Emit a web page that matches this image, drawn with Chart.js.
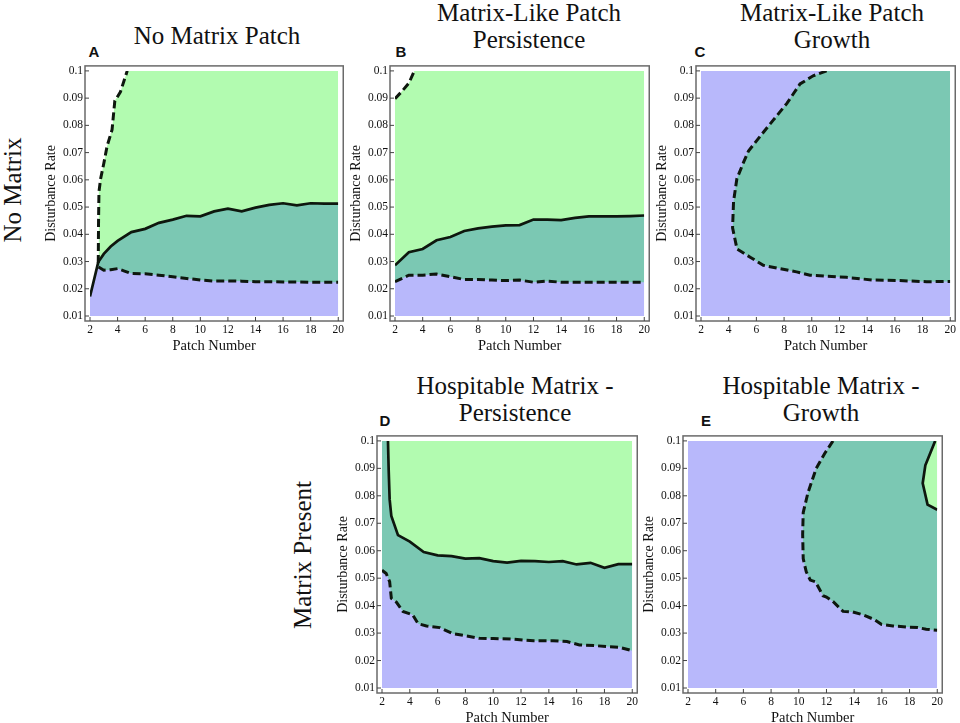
<!DOCTYPE html>
<html>
<head>
<meta charset="utf-8">
<script src="https://cdn.jsdelivr.net/npm/chart.js@4.4.1/dist/chart.umd.min.js"></script>
<style>
  body { margin: 0; background: #fff; }
  #page { position: relative; width: 960px; height: 723px; overflow: hidden;
          font-family: "Liberation Serif", "Times New Roman", serif; color: #111; }
  canvas { position: absolute; }
  .title { position: absolute; width: 360px; text-align: center; font-size: 25px;
           line-height: 26.7px; white-space: nowrap; }
  .letter { position: absolute; width: 20px; text-align: center; font-family: "Liberation Sans", Arial, sans-serif;
            font-weight: bold; font-size: 15px; line-height: 16px; }
  .row { position: absolute; width: 300px; height: 30px; line-height: 30px; font-size: 25px;
         text-align: center; transform: rotate(-90deg); white-space: nowrap; }
</style>
</head>
<body>
<div id="page">
  <div class="row" style="left:-137px; top:175px;">No Matrix</div>
  <div class="row" style="left:153px; top:540px;">Matrix Present</div>

  <div class="title" style="left:37px; top:23px;">No Matrix Patch</div>
  <div class="title" style="left:349px; top:0px;">Matrix-Like Patch<br>Persistence</div>
  <div class="title" style="left:652px; top:0px;">Matrix-Like Patch<br>Growth</div>
  <div class="title" style="left:335px; top:373px;">Hospitable Matrix -<br>Persistence</div>
  <div class="title" style="left:641px; top:373px;">Hospitable Matrix -<br>Growth</div>

  <div class="letter" style="left:84px; top:44px;">A</div>
  <div class="letter" style="left:391px; top:44px;">B</div>
  <div class="letter" style="left:690px; top:44px;">C</div>
  <div class="letter" style="left:375px; top:413px;">D</div>
  <div class="letter" style="left:696px; top:413px;">E</div>

  <canvas id="panelA"></canvas>
  <canvas id="panelB"></canvas>
  <canvas id="panelC"></canvas>
  <canvas id="panelD"></canvas>
  <canvas id="panelE"></canvas>
</div>
<script>
// axis range
const xMin = 2, xMax = 20, yMin = 0.01, yMax = 0.1;
const green = '#b2fbb0', teal = '#7bc8b3', lavender = '#b8b8fb';

// A: No Matrix Patch  [patch number, disturbance rate]
const aSolid = [[2, 0.0172], [2.6, 0.0298], [3, 0.0328], [3.5, 0.0355], [4, 0.0376], [5, 0.0408], [6, 0.042],
  [7, 0.0442], [8, 0.0454], [9, 0.0468], [10, 0.0466], [11, 0.0484], [12, 0.0494], [13, 0.0484], [14, 0.0498],
  [15, 0.0508], [16, 0.0514], [17, 0.0506], [18, 0.0514], [19, 0.0513], [20, 0.0513]];
const aLowerDash = [[2.62, 0.028], [3, 0.0268], [3.5, 0.027], [4, 0.0274], [4.5, 0.0265], [5, 0.0256], [6, 0.0255],
  [7, 0.025], [8, 0.0244], [9, 0.0238], [10, 0.0232], [11, 0.0228], [12, 0.0229], [13, 0.0228], [14, 0.0226],
  [15, 0.0226], [16, 0.0225], [17, 0.0225], [18, 0.0224], [19, 0.0224], [20, 0.0224]];
const aSteepDash = [[2.6, 0.0295], [2.62, 0.045], [2.65, 0.0556], [2.77, 0.0604], [3.0, 0.066], [3.24, 0.0724],
  [3.6, 0.0784], [3.8, 0.089], [4.2, 0.0922], [4.7, 0.1]];

// B: Matrix-Like Patch Persistence
const bSolid = [[2, 0.0286], [3, 0.0334], [4, 0.0346], [5, 0.0378], [6, 0.039], [7, 0.0412], [8, 0.0422],
  [9, 0.0428], [10, 0.0433], [11, 0.0434], [12, 0.0454], [13, 0.0454], [14, 0.0452], [15, 0.046], [16, 0.0466],
  [17, 0.0466], [18, 0.0466], [19, 0.0467], [20, 0.0469]];
const bLowerDash = [[2, 0.0226], [3, 0.025], [4, 0.025], [5, 0.0254], [6, 0.0244], [7, 0.0234], [8, 0.0234],
  [9, 0.0232], [10, 0.023], [11, 0.0232], [12, 0.0224], [13, 0.0228], [14, 0.0224], [15, 0.0224], [16, 0.0224],
  [17, 0.0224], [18, 0.0224], [19, 0.0224], [20, 0.0224]];
const bSteepDash = [[2, 0.0898], [2.5, 0.0925], [3, 0.0955], [3.4, 0.1]];

// C: Matrix-Like Patch Growth (dashed boundary split at its leftmost point)
const cUpperDash = [[4.28, 0.0424], [4.35, 0.052], [4.59, 0.0604], [5.07, 0.0664], [5.43, 0.0706], [6.27, 0.076],
  [7.23, 0.082], [8.19, 0.088], [9.15, 0.0952], [10.1, 0.0982], [11.07, 0.1]];
const cLowerDash = [[4.28, 0.0424], [4.6, 0.0346], [5.55, 0.0316], [6.5, 0.0286], [7.7, 0.0274], [8.9, 0.0262],
  [9.87, 0.025], [11.07, 0.0246], [12.5, 0.0242], [14.4, 0.0232], [16.3, 0.023], [18.3, 0.0226], [20, 0.0227]];

// D: Hospitable Matrix - Persistence
const dSolid = [[2.43, 0.1], [2.48, 0.0895], [2.55, 0.0787], [2.67, 0.0727], [3.15, 0.0657], [4, 0.0633],
  [5, 0.0595], [6, 0.0583], [7, 0.058], [8, 0.0571], [9, 0.0573], [10, 0.0562], [11, 0.0557], [12, 0.0563],
  [13, 0.0562], [14, 0.0559], [15, 0.0562], [16, 0.055], [17, 0.0556], [18, 0.0538], [19, 0.0551], [20, 0.0551]];
const dLowerDash = [[2, 0.0529], [2.3, 0.0517], [2.55, 0.0487], [2.67, 0.0427], [3.03, 0.0413], [3.5, 0.0379],
  [4.2, 0.0367], [4.6, 0.0334], [5.2, 0.0326], [6.15, 0.032], [7.1, 0.0298], [8.07, 0.029], [9, 0.0281],
  [10, 0.028], [11.4, 0.0278], [12.9, 0.0272], [14.3, 0.0272], [15.3, 0.0269], [16.2, 0.0257], [17.4, 0.0254],
  [18.4, 0.025], [19.1, 0.0248], [20, 0.0236]];

// E: Hospitable Matrix - Growth
const eUpperDash = [[10.28, 0.066], [10.32, 0.0739], [10.66, 0.0811], [11.26, 0.09], [11.87, 0.0954], [12.47, 0.1]];
const eLowerDash = [[10.28, 0.066], [10.32, 0.0571], [10.54, 0.0523], [10.83, 0.0493], [11.2, 0.0487],
  [11.75, 0.0436], [12, 0.0431], [12.47, 0.0415], [13.2, 0.0379], [13.9, 0.0377], [14.6, 0.0367], [15.47, 0.0349],
  [15.96, 0.0332], [16.8, 0.0326], [17.76, 0.0322], [18.6, 0.032], [19.2, 0.0314], [20, 0.031]];
const eUpperSolid = [[18.95, 0.0846], [19.14, 0.0911], [19.85, 0.1]];
const eLowerSolid = [[18.95, 0.0846], [19.3, 0.0768], [20, 0.0749]];

const topEdge = [[xMin, yMax], [xMax, yMax]];
const topRight = [[xMax, yMax]];

function pts(arr) { return arr.map(([x, y]) => ({ x, y })); }

// filled region under a boundary (painted in layers, higher order first)
function area(arr, color, order, fill) {
  return { data: pts(arr), fill: fill === undefined ? 'start' : fill, backgroundColor: color,
    borderWidth: 0, pointRadius: 0, order };
}
function edge(arr, dashed) {
  return { data: pts(arr), fill: false, borderColor: '#0e170e', borderWidth: dashed ? 3 : 2.7,
    borderDash: dashed ? [8, 4] : [], pointRadius: 0, order: 0 };
}
function loop(upper, lower) { return upper.slice().reverse().concat(lower.slice(1)); }
// carry a lower layer back to the left axis so no seam shows where it starts
function fromLeft(arr) { return [[xMin, arr[0][1]]].concat(arr); }

// grey frame a little outside the plot range, with inward ticks
const framePlugin = {
  id: 'frame',
  afterDraw(chart) {
    const { ctx, chartArea: a, scales: { x, y } } = chart;
    const g = 5;
    ctx.save();
    ctx.strokeStyle = '#6a6a6a';
    ctx.lineWidth = 1.5;
    ctx.strokeRect(a.left - g, a.top - g, a.right - a.left + 2 * g, a.bottom - a.top + 2 * g);
    ctx.lineWidth = 1;
    ctx.strokeStyle = '#444';
    ctx.beginPath();
    x.ticks.forEach(t => {
      const px = x.getPixelForValue(t.value);
      ctx.moveTo(px, a.bottom + g);
      ctx.lineTo(px, a.bottom + g - 4);
    });
    y.ticks.forEach(t => {
      const py = y.getPixelForValue(t.value);
      ctx.moveTo(a.left - g, py);
      ctx.lineTo(a.left - g + 4, py);
    });
    ctx.stroke();
    ctx.restore();
  }
};

function makePanel(id, rect, datasets) {
  const [pl, pt, pr, pb] = rect;
  const cv = document.getElementById(id);
  cv.width = pr - pl + 47 + 12;
  cv.height = pb - pt + 10 + 39;
  cv.style.left = (pl - 47) + 'px';
  cv.style.top = (pt - 10) + 'px';
  const tickFont = { family: 'Liberation Serif', size: 11.5 };
  return new Chart(cv, {
    type: 'line',
    data: { datasets },
    options: {
      responsive: false,
      animation: false,
      devicePixelRatio: 1,
      events: [],
      layout: { padding: { left: 0, top: 10, right: 12, bottom: 0 } },
      plugins: { legend: { display: false }, tooltip: { enabled: false } },
      scales: {
        x: {
          type: 'linear', min: xMin, max: xMax,
          afterFit: s => { s.height = 39; },
          grid: { display: false, drawTicks: false },
          border: { display: false },
          ticks: { stepSize: 2, padding: 7, color: '#111', font: tickFont, maxRotation: 0, autoSkip: false },
          title: { display: true, text: 'Patch Number', color: '#111', padding: 0,
            font: { family: 'Liberation Serif', size: 14.5 } }
        },
        y: {
          type: 'linear', min: yMin, max: yMax,
          afterFit: s => { s.width = 47; },
          grid: { display: false, drawTicks: false },
          border: { display: false },
          ticks: { stepSize: 0.01, padding: 7, color: '#111', font: tickFont, autoSkip: false,
            callback: v => String(+v.toFixed(2)) },
          title: { display: true, text: 'Disturbance Rate', color: '#111', padding: 0,
            font: { family: 'Liberation Serif', size: 14 } }
        }
      }
    },
    plugins: [framePlugin]
  });
}

const aLavTop = aSolid.filter(p => p[0] < aLowerDash[0][0]).concat(aLowerDash);

makePanel('panelA', [90, 67, 339, 316], [
  area(aSteepDash.concat(topRight), green, 5),
  area(aSolid, teal, 4),
  area(aLavTop, lavender, 3),
  edge(aSolid, false), edge(aLowerDash, true), edge(aSteepDash, true)
]);

makePanel('panelB', [395, 67, 645, 316], [
  area(bSteepDash.concat(topRight), green, 5),
  area(bSolid, teal, 4),
  area(bLowerDash, lavender, 3),
  edge(bSolid, false), edge(bLowerDash, true), edge(bSteepDash, true)
]);

makePanel('panelC', [701, 67, 951, 316], [
  area(topEdge, lavender, 5),
  area(cUpperDash.concat(topRight), teal, 4),
  area(fromLeft(cLowerDash), lavender, 3),
  edge(loop(cUpperDash, cLowerDash), true)
]);

makePanel('panelD', [382, 437, 633, 688], [
  area(topEdge, green, 5),
  area([[xMin, yMax]].concat(dSolid), teal, 4),
  area(dLowerDash, lavender, 3),
  edge(dSolid, false), edge(dLowerDash, true)
]);

// E: green is filled between the two halves of the solid curve (dataset 4 is its lower half)
makePanel('panelE', [688, 437, 938, 688], [
  area(topEdge, lavender, 7),
  area(eUpperDash.concat(topRight), teal, 6),
  area(fromLeft(eLowerDash), lavender, 3),
  area(eUpperSolid.concat(topRight), green, 5, 4),
  { data: pts(eLowerSolid), fill: false, borderWidth: 0, pointRadius: 0, order: 8 },
  edge(loop(eUpperDash, eLowerDash), true),
  edge(loop(eUpperSolid, eLowerSolid), false)
]);
</script>
</body>
</html>
